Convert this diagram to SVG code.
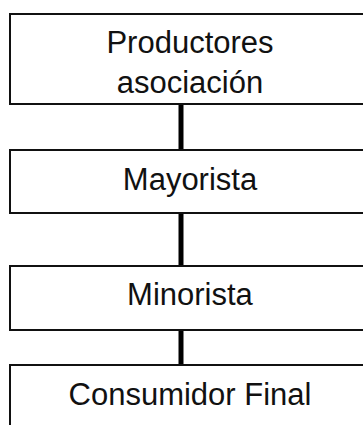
<svg xmlns="http://www.w3.org/2000/svg" width="363" height="425" viewBox="0 0 363 425">
<style>
.box{fill:#fff;stroke:#111;stroke-width:2}
.t{font-family:"Liberation Sans",Arial,sans-serif;font-size:31px;fill:#111;text-anchor:middle}
.c{stroke:#000;stroke-width:5}
</style>
<rect width="363" height="425" fill="#fff"/>
<g id="connectors">
<line class="c" x1="181" y1="104" x2="181" y2="150"/>
<line class="c" x1="181" y1="213" x2="181" y2="266"/>
<line class="c" x1="181" y1="330" x2="181" y2="365"/>
</g>
<g id="productores">
<rect class="box" x="10" y="14" width="365" height="90"/>
<text class="t" x="190" y="53">Productores</text>
<text class="t" x="190" y="93">asociación</text>
</g>
<g id="mayorista">
<rect class="box" x="10" y="150" width="365" height="63"/>
<text class="t" x="190" y="190">Mayorista</text>
</g>
<g id="minorista">
<rect class="box" x="10" y="266" width="365" height="64"/>
<text class="t" x="190" y="305">Minorista</text>
</g>
<g id="consumidor">
<rect class="box" x="10" y="365" width="365" height="70"/>
<text class="t" x="190" y="405">Consumidor Final</text>
</g>
</svg>
